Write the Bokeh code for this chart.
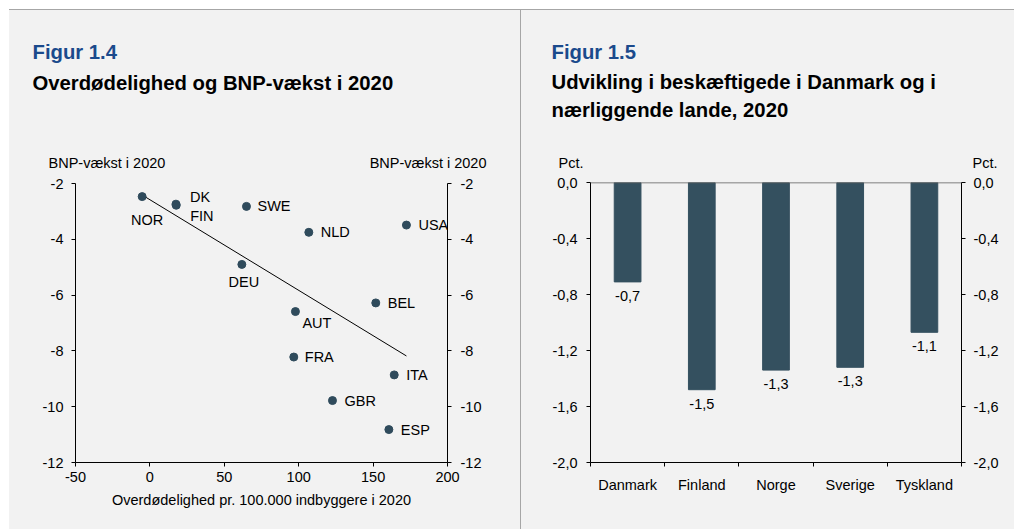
import numpy as np
from bokeh.plotting import figure
from bokeh.models import (Span, LinearAxis, FixedTicker, Range1d, Div, Spacer,
                          CustomJSTickFormatter, ColumnDataSource)
from bokeh.layouts import row, column
from bokeh.embed import file_html
from bokeh.resources import INLINE
from bokeh.core.properties import value

# ---------------- Figur 1.4 data ----------------
countries = ["NOR", "DK", "FIN", "SWE", "NLD", "USA", "DEU", "BEL", "AUT", "FRA", "ITA", "GBR", "ESP"]
excess_deaths = [-5.2, 17.5, 17.7, 64.9, 106.8, 172.4, 61.8, 151.8, 97.8, 96.7, 164.2, 122.7, 160.6]
gdp_growth = [-2.47, -2.74, -2.78, -2.82, -3.75, -3.49, -4.90, -6.28, -6.59, -8.22, -8.86, -9.78, -10.82]
x_ticks_14 = [-50, 0, 50, 100, 150, 200]
y_ticks_14 = [-2, -4, -6, -8, -10, -12]

# ---------------- Figur 1.5 data ----------------
lande = ["Danmark", "Finland", "Norge", "Sverige", "Tyskland"]
beskaeftigede = [-0.71, -1.48, -1.34, -1.32, -1.07]
y_ticks_15 = [0.0, -0.4, -0.8, -1.2, -1.6, -2.0]

# ---------------- styles ----------------
FONT = "Liberation Sans"
BG = "#f2f2f2"
DOT = "#2f4b5c"
BAR = "#34505f"
BLUE = "#1b4a8c"
FS = "14.5px"
TFS = "20.3px"
HH = 164          # header height
MH = 355          # chart height
W1, W2 = 511, 493

# label placement (dx, dy in px, align)
label_place = {
    "NOR": (5, 23, "center"), "DK": (14, -7, "left"), "FIN": (14, 11, "left"),
    "SWE": (11, 0, "left"), "NLD": (12, 0, "left"), "USA": (12, 0, "left"),
    "DEU": (2, 18, "center"), "BEL": (12, 0, "left"), "AUT": (7, 11, "left"),
    "FRA": (11, 0, "left"), "ITA": (12, 0, "left"), "GBR": (12, 0, "left"),
    "ESP": (12, 0, "left"),
}

int_fmt = CustomJSTickFormatter(code="return tick.toFixed(0);")
dec_fmt = CustomJSTickFormatter(code="var s = tick.toFixed(1).replace('.', ','); return s == '-0,0' ? '0,0' : s;")


def no_align(p):
    if "frame_align" in p.properties():
        p.frame_align = False


def style_axis(ax, standoff):
    ax.axis_line_color = "black"
    ax.axis_line_width = 1
    ax.major_tick_line_color = "black"
    ax.major_tick_out = 4
    ax.major_tick_in = 0
    ax.minor_tick_line_color = None
    ax.major_label_text_font = FONT
    ax.major_label_text_font_size = FS
    ax.major_label_text_color = "black"
    ax.major_label_standoff = standoff


def header(width, items):
    """Header strip: texts placed in pixel coordinates (y from top)."""
    h = figure(width=width, height=HH, x_range=Range1d(0, width), y_range=Range1d(HH, 0),
               x_axis_location=None, y_axis_location=None,
               output_backend="svg", toolbar_location=None,
               min_border=0, background_fill_color=BG, border_fill_color=BG,
               outline_line_color=None)
    no_align(h)
    h.grid.visible = False
    for text, x, y, size, bold, color, align in items:
        h.text(x=[x], y=[y], text=[text], text_align=align, text_baseline="middle",
               text_font=value(FONT), text_font_size=value(size),
               text_font_style="bold" if bold else "normal", text_color=color)
    return h


# ================= Left: Figur 1.4 =================
h1 = header(W1, [
    ("Figur 1.4", 23, 41, TFS, True, BLUE, "left"),
    ("Overdødelighed og BNP-vækst i 2020", 23, 72, TFS, True, "black", "left"),
    ("BNP-vækst i 2020", 39, 152, FS, False, "black", "left"),
    ("BNP-vækst i 2020", 477, 152, FS, False, "black", "right"),
])

p1 = figure(width=W1, height=MH, x_range=Range1d(-50, 200), y_range=Range1d(-12, -2),
            output_backend="svg", toolbar_location=None,
            min_border_left=66, min_border_right=73, min_border_top=9, min_border_bottom=MH - 288,
            background_fill_color=BG, border_fill_color=BG, outline_line_color=None)
no_align(p1)
p1.xgrid.visible = False
p1.ygrid.visible = False
p1.xaxis.ticker = FixedTicker(ticks=x_ticks_14)
p1.yaxis.ticker = FixedTicker(ticks=y_ticks_14)
p1.xaxis.formatter = int_fmt
p1.yaxis.formatter = int_fmt
style_axis(p1.xaxis[0], 5)
style_axis(p1.yaxis[0], 8)
p1.xaxis.axis_label = "Overdødelighed pr. 100.000 indbyggere i 2020"
p1.xaxis.axis_label_text_font = FONT
p1.xaxis.axis_label_text_font_size = FS
p1.xaxis.axis_label_text_font_style = "normal"
p1.xaxis.axis_label_text_color = "black"
p1.xaxis.axis_label_standoff = 7
r_ax = LinearAxis(ticker=FixedTicker(ticks=y_ticks_14), formatter=int_fmt)
style_axis(r_ax, 9)
p1.add_layout(r_ax, "right")

# trend line (least squares fit)
xa = np.array(excess_deaths)
ya = np.array(gdp_growth)
coef = np.polyfit(xa, ya, 1)
tx = np.array([xa.min(), xa.max()])
p1.line(tx, np.polyval(coef, tx), line_color="black", line_width=1)

p1.scatter(excess_deaths, gdp_growth, size=8, fill_color=DOT, line_color=DOT)

src = ColumnDataSource(dict(
    x=excess_deaths, y=gdp_growth, t=countries,
    dx=[label_place[c][0] for c in countries],
    dy=[label_place[c][1] for c in countries],
    al=[label_place[c][2] for c in countries]))
p1.text(x="x", y="y", text="t", x_offset="dx", y_offset="dy", text_align="al",
        text_baseline="middle", text_font=value(FONT), text_font_size=value(FS),
        text_color="black", source=src)

# ================= Right: Figur 1.5 =================
h2 = header(W2, [
    ("Figur 1.5", 30, 41, TFS, True, BLUE, "left"),
    ("Udvikling i beskæftigede i Danmark og i", 30, 71, TFS, True, "black", "left"),
    ("nærliggende lande, 2020", 30, 99, TFS, True, "black", "left"),
    ("Pct.", 37, 152, FS, False, "black", "left"),
    ("Pct.", 476, 152, FS, False, "black", "right"),
])

xs = list(range(1, len(lande) + 1))
p2 = figure(width=W2, height=MH, x_range=Range1d(0.5, len(lande) + 0.5), y_range=Range1d(-2, 0),
            output_backend="svg", toolbar_location=None,
            min_border_left=69, min_border_right=53, min_border_top=8, min_border_bottom=MH - 288,
            background_fill_color=BG, border_fill_color=BG, outline_line_color=None)
no_align(p2)
p2.xgrid.visible = False
p2.ygrid.visible = False

p2.yaxis.ticker = FixedTicker(ticks=y_ticks_15)
p2.yaxis.formatter = dec_fmt
style_axis(p2.yaxis[0], 9)
r_ax2 = LinearAxis(ticker=FixedTicker(ticks=y_ticks_15), formatter=dec_fmt)
style_axis(r_ax2, 8)
p2.add_layout(r_ax2, "right")

xax = p2.xaxis[0]
xax.ticker = FixedTicker(ticks=xs, minor_ticks=[i + 0.5 for i in range(0, len(lande) + 1)])
xax.formatter = CustomJSTickFormatter(args=dict(labels=lande),
                                      code="return labels[Math.round(tick) - 1];")
style_axis(xax, 10)
xax.major_tick_out = 0
xax.major_tick_line_color = None
xax.minor_tick_line_color = "black"
xax.minor_tick_out = 4
xax.minor_tick_in = 0

p2.vbar(x=xs, top=beskaeftigede, bottom=0, width=0.36, fill_color=BAR, line_color=BAR)
p2.add_layout(Span(location=0, dimension="width", line_color="#5a5a5a", line_width=1.5))

bar_labels = [f"{v:.1f}".replace(".", ",") for v in beskaeftigede]
p2.text(x=xs, y=beskaeftigede, text=bar_labels, y_offset=14, text_align="center",
        text_baseline="middle", text_font=value(FONT), text_font_size=value(FS),
        text_color="black")

LINE = "#a6a6a6"
H = HH + MH
bg = {"background-color": BG}
top_line = Div(width=W1 + 1 + W2, height=1, margin=0, styles={"background-color": LINE})
divider = Div(width=1, height=H, margin=0, styles={"background-color": LINE})
layout = column(
    Spacer(width=1015, height=9, margin=0),
    row(Spacer(width=9, height=H + 1, margin=0),
        column(top_line,
               row(column(h1, p1, spacing=0, styles=bg), divider,
                   column(h2, p2, spacing=0, styles=bg), spacing=0, styles=bg),
               spacing=0),
        spacing=0),
    spacing=0)

open("out.html", "w").write(file_html(layout, INLINE))
